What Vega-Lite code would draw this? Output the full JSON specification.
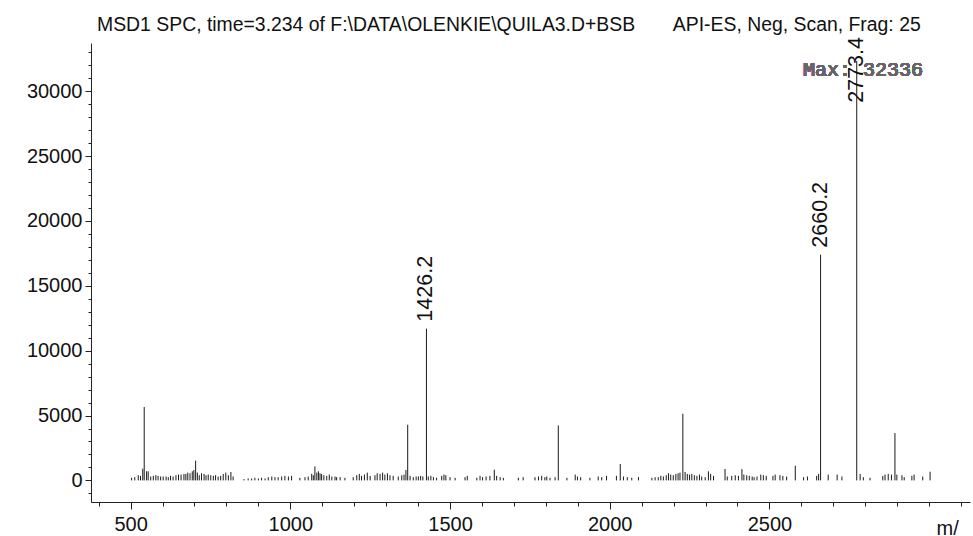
{
  "$schema": "https://vega.github.io/schema/vega-lite/v6.json",
  "width": 879,
  "height": 459,
  "autosize": {"type": "none"},
  "padding": {"left": 91, "top": 43, "right": 3, "bottom": 34},
  "background": "white",
  "title": {
    "text": "MSD1 SPC, time=3.234 of F:\\DATA\\OLENKIE\\QUILA3.D+BSB\u00a0\u00a0\u00a0\u00a0\u00a0\u00a0\u00a0API-ES, Neg, Scan, Frag: 25",
    "anchor": "start",
    "frame": "group",
    "dx": 6,
    "offset": 2,
    "font": "Liberation Sans",
    "fontSize": 19.4,
    "fontWeight": "normal",
    "color": "#111"
  },
  "config": {
    "view": {"stroke": null},
    "axis": {
      "grid": false,
      "domainColor": "#222",
      "tickColor": "#222",
      "labelFont": "Liberation Sans",
      "labelFontSize": 20,
      "labelColor": "#111",
      "labelOverlap": false,
      "labelFlush": false,
      "labelBound": false
    }
  },
  "resolve": {"axis": {"x": "independent", "y": "independent"}},
  "data": {
    "values": [
      {"mz": 503, "abund": 200}, {"mz": 513, "abund": 250}, {"mz": 524, "abund": 400}, {"mz": 531, "abund": 350},
      {"mz": 538, "abund": 900}, {"mz": 542.6, "abund": 5660}, {"mz": 550, "abund": 700}, {"mz": 555, "abund": 700},
      {"mz": 563, "abund": 300}, {"mz": 571, "abund": 350}, {"mz": 579, "abund": 400}, {"mz": 586, "abund": 350},
      {"mz": 594, "abund": 300}, {"mz": 602, "abund": 300}, {"mz": 611, "abund": 300}, {"mz": 618, "abund": 250},
      {"mz": 625, "abund": 350}, {"mz": 633, "abund": 300}, {"mz": 642, "abund": 400}, {"mz": 650, "abund": 450},
      {"mz": 658, "abund": 450}, {"mz": 667, "abund": 500}, {"mz": 673, "abund": 500}, {"mz": 679, "abund": 600},
      {"mz": 686, "abund": 550}, {"mz": 693, "abund": 700}, {"mz": 698, "abund": 800}, {"mz": 703.6, "abund": 1520},
      {"mz": 709, "abund": 600}, {"mz": 715, "abund": 400}, {"mz": 722, "abund": 550}, {"mz": 730, "abund": 500},
      {"mz": 736, "abund": 400}, {"mz": 743, "abund": 450}, {"mz": 751, "abund": 400}, {"mz": 759, "abund": 350},
      {"mz": 766, "abund": 400}, {"mz": 774, "abund": 300}, {"mz": 782, "abund": 350}, {"mz": 790, "abund": 500},
      {"mz": 798, "abund": 600}, {"mz": 806, "abund": 400}, {"mz": 814, "abund": 650}, {"mz": 821, "abund": 300},
      {"mz": 855, "abund": 100}, {"mz": 868, "abund": 150}, {"mz": 879, "abund": 150}, {"mz": 889, "abund": 200},
      {"mz": 900, "abund": 150}, {"mz": 910, "abund": 200}, {"mz": 921, "abund": 150}, {"mz": 931, "abund": 250},
      {"mz": 942, "abund": 300}, {"mz": 952, "abund": 250}, {"mz": 962, "abund": 250}, {"mz": 973, "abund": 300},
      {"mz": 983, "abund": 350}, {"mz": 994, "abund": 300}, {"mz": 1004, "abund": 350},
      {"mz": 1030, "abund": 200}, {"mz": 1046, "abund": 250}, {"mz": 1056, "abund": 300}, {"mz": 1067, "abund": 500},
      {"mz": 1072, "abund": 400}, {"mz": 1077, "abund": 1080}, {"mz": 1083, "abund": 600}, {"mz": 1088, "abund": 700},
      {"mz": 1093, "abund": 550}, {"mz": 1098, "abund": 500}, {"mz": 1105, "abund": 400}, {"mz": 1114, "abund": 350},
      {"mz": 1122, "abund": 450}, {"mz": 1130, "abund": 300}, {"mz": 1140, "abund": 300}, {"mz": 1145, "abund": 250},
      {"mz": 1156, "abund": 250}, {"mz": 1171, "abund": 200}, {"mz": 1197, "abund": 250}, {"mz": 1208, "abund": 400},
      {"mz": 1216, "abund": 500}, {"mz": 1223, "abund": 350}, {"mz": 1232, "abund": 450}, {"mz": 1241, "abund": 600},
      {"mz": 1250, "abund": 350}, {"mz": 1265, "abund": 400}, {"mz": 1272, "abund": 550}, {"mz": 1281, "abund": 500},
      {"mz": 1289, "abund": 600}, {"mz": 1296, "abund": 450}, {"mz": 1304, "abund": 550}, {"mz": 1312, "abund": 400},
      {"mz": 1322, "abund": 350}, {"mz": 1338, "abund": 300}, {"mz": 1349, "abund": 400}, {"mz": 1356, "abund": 450},
      {"mz": 1362, "abund": 800}, {"mz": 1367.5, "abund": 4290}, {"mz": 1375, "abund": 350}, {"mz": 1385, "abund": 250},
      {"mz": 1394, "abund": 300}, {"mz": 1401, "abund": 300}, {"mz": 1408, "abund": 350}, {"mz": 1415, "abund": 300},
      {"mz": 1426.2, "abund": 11700, "label": "1426.2"},
      {"mz": 1432, "abund": 300}, {"mz": 1440, "abund": 350}, {"mz": 1448, "abund": 250}, {"mz": 1458, "abund": 200},
      {"mz": 1474, "abund": 350}, {"mz": 1481, "abund": 450}, {"mz": 1487, "abund": 400}, {"mz": 1500, "abund": 250},
      {"mz": 1516, "abund": 200}, {"mz": 1547, "abund": 250}, {"mz": 1554, "abund": 350}, {"mz": 1584, "abund": 200},
      {"mz": 1594, "abund": 350}, {"mz": 1602, "abund": 250}, {"mz": 1613, "abund": 300}, {"mz": 1625, "abund": 350},
      {"mz": 1638.7, "abund": 825}, {"mz": 1646, "abund": 350}, {"mz": 1657, "abund": 250}, {"mz": 1667, "abund": 200},
      {"mz": 1714, "abund": 200}, {"mz": 1729, "abund": 250}, {"mz": 1766, "abund": 250}, {"mz": 1777, "abund": 300},
      {"mz": 1787, "abund": 350}, {"mz": 1797, "abund": 250}, {"mz": 1803, "abund": 300}, {"mz": 1813, "abund": 200},
      {"mz": 1829, "abund": 250}, {"mz": 1839, "abund": 4240}, {"mz": 1866, "abund": 200}, {"mz": 1892, "abund": 450},
      {"mz": 1899, "abund": 300}, {"mz": 1909, "abund": 250}, {"mz": 1938, "abund": 200}, {"mz": 1964, "abund": 300},
      {"mz": 1975, "abund": 250}, {"mz": 1990, "abund": 350}, {"mz": 2021, "abund": 350}, {"mz": 2033, "abund": 1260},
      {"mz": 2043, "abund": 300}, {"mz": 2055, "abund": 250}, {"mz": 2069, "abund": 200}, {"mz": 2090, "abund": 250},
      {"mz": 2132, "abund": 200}, {"mz": 2142, "abund": 250}, {"mz": 2152, "abund": 250}, {"mz": 2160, "abund": 350},
      {"mz": 2168, "abund": 300}, {"mz": 2177, "abund": 400}, {"mz": 2184, "abund": 550}, {"mz": 2191, "abund": 450},
      {"mz": 2199, "abund": 400}, {"mz": 2207, "abund": 500}, {"mz": 2214, "abund": 550}, {"mz": 2220, "abund": 600},
      {"mz": 2229, "abund": 5140}, {"mz": 2236, "abund": 650}, {"mz": 2243, "abund": 500}, {"mz": 2250, "abund": 450},
      {"mz": 2257, "abund": 500}, {"mz": 2265, "abund": 400}, {"mz": 2273, "abund": 350}, {"mz": 2281, "abund": 450},
      {"mz": 2288, "abund": 300}, {"mz": 2299, "abund": 250}, {"mz": 2309, "abund": 700}, {"mz": 2316, "abund": 500},
      {"mz": 2325, "abund": 350}, {"mz": 2361, "abund": 880}, {"mz": 2368, "abund": 300}, {"mz": 2382, "abund": 350},
      {"mz": 2393, "abund": 400}, {"mz": 2403, "abund": 350}, {"mz": 2414, "abund": 870}, {"mz": 2420, "abund": 450},
      {"mz": 2429, "abund": 400}, {"mz": 2437, "abund": 350}, {"mz": 2446, "abund": 300}, {"mz": 2452, "abund": 250},
      {"mz": 2461, "abund": 300}, {"mz": 2473, "abund": 450}, {"mz": 2481, "abund": 400}, {"mz": 2490, "abund": 350},
      {"mz": 2511, "abund": 350}, {"mz": 2518, "abund": 450}, {"mz": 2533, "abund": 400}, {"mz": 2542, "abund": 350},
      {"mz": 2554, "abund": 300}, {"mz": 2581, "abund": 1130}, {"mz": 2607, "abund": 250}, {"mz": 2619, "abund": 300},
      {"mz": 2648, "abund": 350}, {"mz": 2654, "abund": 500},
      {"mz": 2660.2, "abund": 17400, "label": "2660.2"},
      {"mz": 2684, "abund": 450}, {"mz": 2712, "abund": 450}, {"mz": 2727, "abund": 300},
      {"mz": 2773.4, "abund": 32336, "label": "2773.4"},
      {"mz": 2784, "abund": 500}, {"mz": 2794, "abund": 250}, {"mz": 2815, "abund": 200}, {"mz": 2855, "abund": 350},
      {"mz": 2862, "abund": 450}, {"mz": 2872, "abund": 500}, {"mz": 2882, "abund": 450}, {"mz": 2893, "abund": 3650},
      {"mz": 2899, "abund": 450}, {"mz": 2915, "abund": 400}, {"mz": 2922, "abund": 250}, {"mz": 2946, "abund": 350},
      {"mz": 2953, "abund": 450}, {"mz": 2980, "abund": 300}, {"mz": 3003, "abund": 670}
    ]
  },
  "layer": [
    {
      "mark": {"type": "rule", "color": "#1a1a1a", "strokeWidth": 1},
      "encoding": {
        "x": {
          "field": "mz",
          "type": "quantitative",
          "scale": {"domain": [376, 3128], "nice": false, "zero": false},
          "axis": {
            "orient": "bottom",
            "values": [500, 1000, 1500, 2000, 2500],
            "format": "d",
            "tickSize": 7,
            "labelPadding": 5,
            "title": "m/",
            "titleFont": "Liberation Sans",
            "titleFontSize": 20,
            "titleFontWeight": "normal",
            "titleColor": "#111",
            "titleAnchor": "start",
            "titleAlign": "left",
            "titleBaseline": "alphabetic",
            "titleX": 845,
            "titleY": 32
          }
        },
        "y": {
          "field": "abund",
          "type": "quantitative",
          "scale": {"domain": [-1665, 33720], "nice": false, "zero": false},
          "axis": {
            "orient": "left",
            "values": [0, 5000, 10000, 15000, 20000, 25000, 30000],
            "format": "d",
            "tickSize": 6,
            "labelPadding": 3,
            "title": null
          }
        },
        "y2": {"datum": 0}
      }
    },
    {
      "transform": [{"filter": "datum.label && datum.abund < 30000"}],
      "mark": {"type": "text", "angle": 270, "align": "left", "baseline": "middle", "dx": 7, "font": "Liberation Sans", "fontSize": 21.5, "color": "#111"},
      "encoding": {
        "x": {
          "field": "mz",
          "type": "quantitative",
          "axis": {
            "orient": "bottom",
            "values": [400, 600, 700, 800, 900, 1100, 1200, 1300, 1400, 1600, 1700, 1800, 1900, 2100, 2200, 2300, 2400, 2600, 2700, 2800, 2900, 3000, 3100],
            "labels": false,
            "domain": false,
            "tickSize": 4,
            "title": null
          }
        },
        "y": {
          "field": "abund",
          "type": "quantitative",
          "axis": {
            "orient": "left",
            "values": [-1000, 1000, 2000, 3000, 4000, 6000, 7000, 8000, 9000, 11000, 12000, 13000, 14000, 16000, 17000, 18000, 19000, 21000, 22000, 23000, 24000, 26000, 27000, 28000, 29000, 31000, 32000, 33000],
            "labels": false,
            "domain": false,
            "tickSize": 3,
            "title": null
          }
        },
        "text": {"field": "label"}
      }
    },
    {
      "transform": [{"filter": "datum.label && datum.abund >= 30000"}],
      "mark": {"type": "text", "angle": 270, "align": "right", "baseline": "middle", "dx": 6, "font": "Liberation Sans", "fontSize": 21.5, "color": "#111"},
      "encoding": {
        "x": {"field": "mz", "type": "quantitative", "axis": null},
        "y": {"datum": 33720, "axis": null},
        "text": {"field": "label"}
      }
    },
    {
      "mark": {"type": "text", "align": "left", "baseline": "middle", "font": "Liberation Mono", "fontSize": 20, "color": "#666"},
      "encoding": {
        "x": {"datum": 2605, "axis": null},
        "y": {"datum": 31640, "axis": null},
        "text": {"value": "Max: 32336"}
      }
    }
  ]
}
